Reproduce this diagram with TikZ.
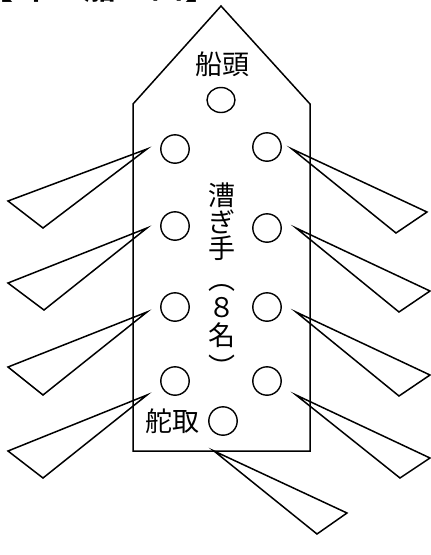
\documentclass[tikz,border=0pt]{standalone}
\usepackage{fontspec}
\setmainfont{Liberation Sans}
\newfontfamily\jp{Noto Sans CJK JP}[Scale=1]
\newfontfamily\jpbold{Noto Sans CJK JP Bold}
\tikzset{
  line/.style={draw=black,line width=1.5pt,line join=miter},
  seat/.style={draw=black,line width=1.4pt,fill=none},
  label/.style={inner sep=0pt,font=\jp\fontsize{27}{27}\selectfont},
  title/.style={inner sep=0pt,font=\jpbold\fontsize{32}{32}\selectfont}
}
\begin{document}
\begin{tikzpicture}[x=1pt,y=-1pt]
\useasboundingbox (0,0) rectangle (431,555);
\clip (0,0) rectangle (431,555);
% title, cut by the top edge
\node[title] (t1) at (-3,-13) {【};
\node[title] (t2) at (36,-13) {木};
\node[title] (t3) at (100,-13) {船};
\node[title] (t4) at (167,-13) {図};
\node[title] (t5) at (201,-13) {】};
% hull
\draw[line] (221,6) -- (310,104) -- (310,451) -- (133,451) -- (133,104) -- cycle;
% seats
\draw[seat] (221,100) ellipse (14 and 12.5);
\draw[seat] (175,149) circle (14.2);
\draw[seat] (267,147) circle (14.2);
\draw[seat] (175,226) circle (14.2);
\draw[seat] (267,228) circle (14.2);
\draw[seat] (175,307) circle (14.2);
\draw[seat] (267,307) circle (14.2);
\draw[seat] (175,381) circle (14.2);
\draw[seat] (267,381) circle (14.2);
\draw[seat] (223,421) circle (14.2);
% oars
\draw[line] (147,149) -- (8,201) -- (43,228) -- cycle;
\draw[line] (147,228) -- (8,283) -- (44,310) -- cycle;
\draw[line] (147,312) -- (8,367) -- (43,395) -- cycle;
\draw[line] (147,395) -- (8,451) -- (43,478) -- cycle;
\draw[line] (292,149) -- (427,212) -- (396,233) -- cycle;
\draw[line] (296,228) -- (430,291) -- (399,312) -- cycle;
\draw[line] (296,312) -- (430,375) -- (399,396) -- cycle;
\draw[line] (296,395) -- (430,458) -- (400,478) -- cycle;
\draw[line] (214,451) -- (347,513) -- (317,534) -- cycle;
% labels
\node[label] (bow) at (222,64) {船頭};
\node[label] (helm) at (172,421) {舵取};
\node[label] (r1) at (222,195) {漕};
\node[label] (r2) at (222,222) {ぎ};
\node[label] (r3) at (222,248) {手};
\node[label] (r4) at (222,288) {︵};
\node[label] (r5) at (222,308) {８};
\node[label] (r6) at (222,335) {名};
\node[label] (r7) at (222,366) {︶};
\end{tikzpicture}
\end{document}
